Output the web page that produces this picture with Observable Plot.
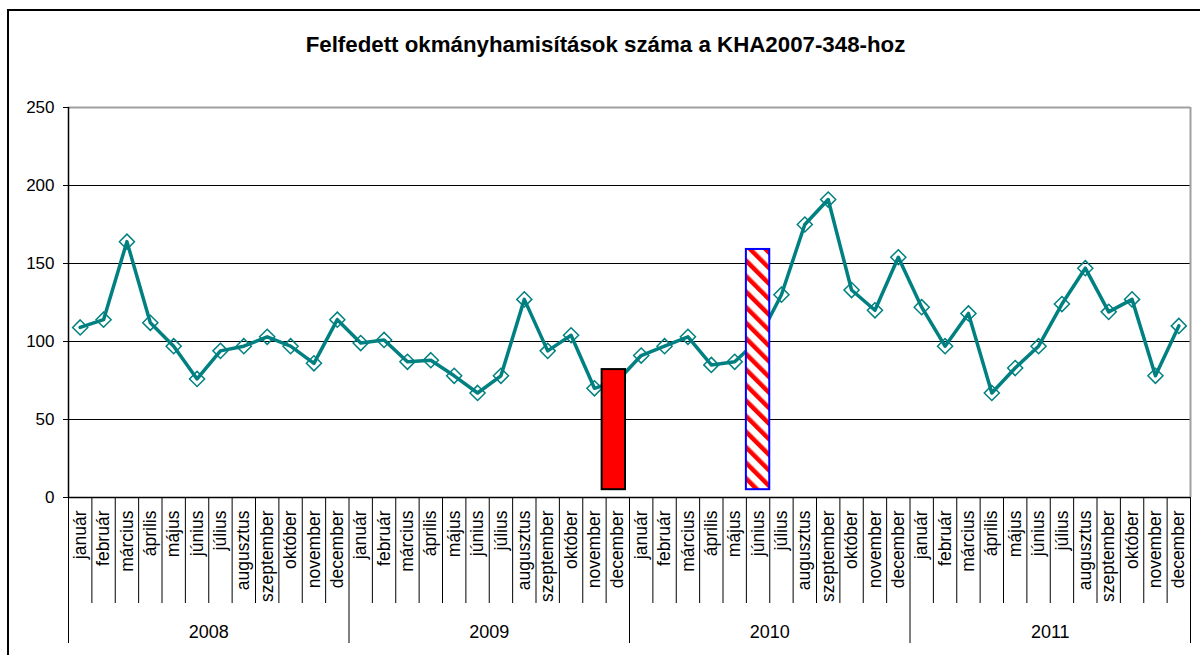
<!DOCTYPE html>
<html>
<head>
<meta charset="utf-8">
<script src="https://cdn.jsdelivr.net/npm/d3@7"></script>
<script src="https://cdn.jsdelivr.net/npm/@observablehq/plot@0.6"></script>
<style>
  html, body { margin: 0; padding: 0; background: #fff; }
  #wrap { position: relative; width: 1200px; height: 655px; overflow: hidden; }
  #border { position: absolute; left: 7px; top: 9px; width: 1400px; height: 900px;
            border-left: 2px solid #000; border-top: 2px solid #000; pointer-events: none; }
</style>
</head>
<body>
<div id="wrap"><div id="chart"></div><div id="border"></div></div>
<script>
const title = "Felfedett okmányhamisítások száma a KHA2007-348-hoz";
const months = ["január","február","március","április","május","június","július","augusztus","szeptember","október","november","december"];
const years = ["2008","2009","2010","2011"];
const values2008 = [109,114,164,112,97,76,94,97,103,97,86,114];
const values2009 = [99,101,87,88,78,67,78,127,94,104,70,75];
const values2010 = [91,97,103,85,87,101,130,175,191,133,120,154];
const values2011 = [122,97,118,67,83,97,124,147,119,127,78,110];
const yTicks = [0,50,100,150,200,250];
// highlighted bars: year, month, low, high
const barYears = ["2009","2010"];
const barMonthNames = ["december","június"];
const barLow = [5,5];
const barHigh = [82,159];
const barKind = ["solid","hatched"];

const series = [values2008, values2009, values2010, values2011];
const rows = years.flatMap((yr, yi) => series[yi].map((v, mi) => ({i: yi*12+mi, year: yr, month: months[mi], value: v})));
const bars = barYears.map((yr, k) => ({
  i: years.indexOf(yr)*12 + months.indexOf(barMonthNames[k]),
  low: barLow[k], high: barHigh[k], kind: barKind[k]
}));
const n = rows.length;
const monthBounds = d3.range(n + 1).map(k => k - 0.5).filter(b => (b + 0.5) % 12 !== 0);
const yearBounds = d3.range(years.length + 1).map(k => k*12 - 0.5);
const yearCenters = years.map((yr, k) => ({x: k*12 + 5.5, label: yr}));

const chart = Plot.plot({
  width: 1200,
  height: 655,
  marginLeft: 68,
  marginRight: 10,
  marginTop: 107,
  marginBottom: 158,
  style: {fontFamily: "'Liberation Sans', Arial, sans-serif", background: "transparent", color: "#000"},
  x: {domain: [-0.5, n - 0.5], axis: null},
  y: {domain: [0, 250], axis: null},
  marks: [
    Plot.ruleY(yTicks.slice(1, -1), {stroke: "#000", strokeWidth: 1}),
    Plot.ruleY([yTicks[yTicks.length-1]], {stroke: "#a0a0a0", strokeWidth: 2}),
    Plot.ruleX([n - 0.5], {y1: 0, y2: 250, stroke: "#a0a0a0", strokeWidth: 2}),
    Plot.axisY({ticks: yTicks, tickSize: 5, tickPadding: 9, fontSize: 17, tickFormat: d => String(d)}),
    Plot.ruleX([-0.5], {y1: 0, y2: 250, stroke: "#000", strokeWidth: 1.5}),
    Plot.ruleY([0], {stroke: "#000", strokeWidth: 1.5}),
    Plot.axisX({ticks: monthBounds, tickSize: 106, tickFormat: () => "", strokeWidth: 1}),
    Plot.axisX({ticks: yearBounds, tickSize: 146, tickFormat: () => "", strokeWidth: 1}),
    Plot.text(rows, {x: "i", text: "month", frameAnchor: "bottom", dy: 13, rotate: -90, textAnchor: "end", lineAnchor: "middle", fontSize: 17.5, fill: "#000"}),
    Plot.text(yearCenters, {x: "x", text: "label", frameAnchor: "bottom", dy: 135, lineAnchor: "middle", fontSize: 18, fill: "#000"}),
    Plot.text([title], {frameAnchor: "top", dx: -24, dy: -63, lineAnchor: "middle", fontSize: 22.3, fontWeight: "bold", fill: "#000"}),
    Plot.line(rows, {x: "i", y: "value", stroke: "#008080", strokeWidth: 3.5}),
    Plot.dot(rows, {x: "i", y: "value", symbol: "diamond2", r: 6.8, stroke: "#008080", strokeWidth: 1.5, fill: "none"}),
    Plot.rectY(bars.filter(d => d.kind === "solid"), {x1: d => d.i - 0.5, x2: d => d.i + 0.5, y1: "low", y2: "high", dx: -4, fill: "#ff0000", stroke: "#000", strokeWidth: 2}),
    Plot.rectY(bars.filter(d => d.kind === "hatched"), {x1: d => d.i - 0.5, x2: d => d.i + 0.5, y1: "low", y2: "high", fill: "url(#hatch)", stroke: "#0000ff", strokeWidth: 2})
  ]
});

const svg = d3.select(chart);
const defs = svg.insert("defs", ":first-child");
const pat = defs.append("pattern")
  .attr("id", "hatch").attr("patternUnits", "userSpaceOnUse")
  .attr("width", 11).attr("height", 11)
  .attr("patternTransform", "rotate(-45)");
pat.append("rect").attr("width", 11).attr("height", 11).attr("fill", "#fff");
pat.append("rect").attr("width", 4.5).attr("height", 11).attr("fill", "#ff0000");

document.getElementById("chart").appendChild(chart);
</script>
</body>
</html>
